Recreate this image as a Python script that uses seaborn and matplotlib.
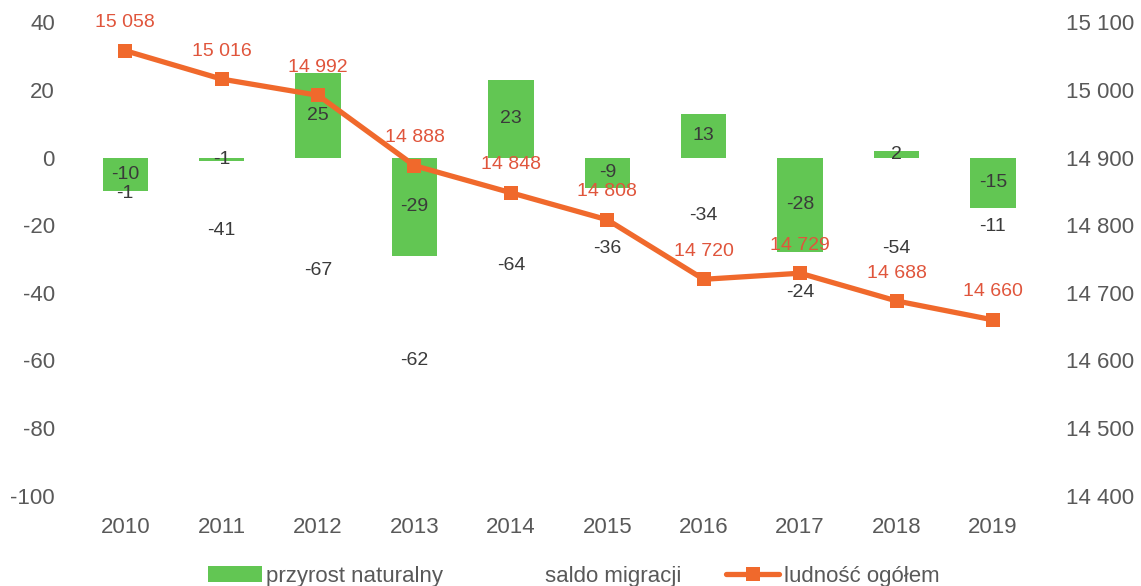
import numpy as np
import pandas as pd
import matplotlib.pyplot as plt
import seaborn as sns
from matplotlib.patches import Patch
from matplotlib.lines import Line2D

# chart data
years = ["2010", "2011", "2012", "2013", "2014", "2015", "2016", "2017", "2018", "2019"]
przyrost = [-10, -1, 25, -29, 23, -9, 13, -28, 2, -15]
saldo = [-1, -41, -67, -62, -64, -36, -34, -24, -54, -11]
ludnosc = [15058, 15016, 14992, 14888, 14848, 14808, 14720, 14729, 14688, 14660]

sns.set_theme(style="white")
plt.rcParams["font.family"] = ["Liberation Sans", "DejaVu Sans"]
plt.rcParams["axes.unicode_minus"] = False

green = "#62c653"
orange = "#f0692c"
label_red = "#e0553c"
gray = "#595959"
dark = "#3a3a3a"

df = pd.DataFrame({"rok": years, "przyrost": przyrost, "saldo": saldo, "ludnosc": ludnosc})

fig = plt.figure(figsize=(11.41, 5.86), dpi=100)
ax = fig.add_axes([0.0675, 0.154, 0.845, 0.808])

sns.barplot(data=df, x="rok", y="przyrost", color=green, saturation=1,
            width=0.47, ax=ax, linewidth=0)

# migration stacked on top of the natural growth (white, invisible)
xpos = np.arange(len(years))
bottoms = np.where(df["przyrost"] < 0, df["przyrost"], 0)
ax.bar(xpos, df["saldo"], bottom=bottoms, width=0.47, color="white", zorder=0)

for i, v in enumerate(przyrost):
    ax.text(i, v / 2, f"{v}", ha="center", va="center", fontsize=14, color=dark)
for i, v in enumerate(saldo):
    ax.text(i, bottoms[i] + v / 2, f"{v}", ha="center", va="center", fontsize=14, color=dark)

ax.set_ylim(-100, 40)
ax.set_yticks(range(-100, 41, 20))
ax.set_xlim(-0.5, len(years) - 0.5)
ax.set_xlabel("")
ax.set_ylabel("")
ax.tick_params(axis="both", length=0, labelsize=16, labelcolor=gray)
ax.tick_params(axis="y", pad=16)
ax.tick_params(axis="x", pad=15)
sns.despine(ax=ax, left=True, bottom=True)

ax2 = ax.twinx()
sns.lineplot(x=xpos, y=df["ludnosc"], ax=ax2, color=orange, linewidth=3.8,
             marker="s", markersize=10.5, markeredgewidth=0, zorder=5)
for i, v in enumerate(ludnosc):
    ax2.annotate(f"{v:,}".replace(",", " "), (i, v), xytext=(0, 14),
                 textcoords="offset points", ha="center", va="bottom",
                 fontsize=14, color=label_red)
ax2.set_ylim(14400, 15100)
ax2.set_yticks(range(14400, 15101, 100))
ax2.set_yticklabels([f"{t:,}".replace(",", " ") for t in range(14400, 15101, 100)])
ax2.set_ylabel("")
ax2.tick_params(axis="y", length=0, labelsize=16, labelcolor=gray, pad=18)
sns.despine(ax=ax2, left=True, bottom=True, right=True)

handles = [
    Patch(facecolor=green, edgecolor="none"),
    Patch(facecolor="white", edgecolor="none"),
    Line2D([0], [0], color=orange, linewidth=3.8, marker="s", markersize=10.5, markeredgewidth=0),
]
fig.legend(handles, ["przyrost naturalny", "saldo migracji", "ludność ogółem"],
           loc="lower center", bbox_to_anchor=(0.503, -0.035), ncol=3, frameon=False,
           fontsize=16, labelcolor=gray, handlelength=2.4, handletextpad=0.2,
           columnspacing=2.0)

fig.savefig("out.png", dpi=100)
